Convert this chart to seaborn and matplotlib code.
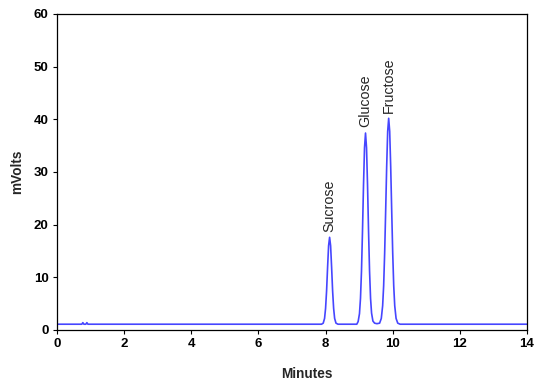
import matplotlib
matplotlib.use("Agg")
import matplotlib.pyplot as plt
import seaborn as sns
import pandas as pd

# Trace (minutes, mVolts)
time_min = [0.0, 0.74, 0.77, 0.80, 0.86, 0.89, 0.92,
            7.88, 7.93, 7.97, 8.00, 8.03, 8.06, 8.09, 8.12, 8.15, 8.18, 8.21, 8.24, 8.27, 8.31, 8.37,
            8.93, 8.97, 9.01, 9.04, 9.07, 9.10, 9.13, 9.16, 9.19, 9.22, 9.25, 9.28, 9.31, 9.34, 9.37, 9.41, 9.46, 9.53,
            9.61, 9.66, 9.70, 9.73, 9.76, 9.79, 9.82, 9.85, 9.88, 9.91, 9.94, 9.97, 10.00, 10.03, 10.06, 10.10, 10.15, 10.22,
            14.0]
signal_mv = [1.1, 1.1, 1.4, 1.1, 1.1, 1.4, 1.1,
             1.1, 1.3, 2.2, 4.1, 7.4, 11.9, 16.0, 17.6, 16.0, 11.9, 7.4, 4.1, 2.2, 1.3, 1.1,
             1.1, 1.6, 3.1, 6.0, 11.2, 18.8, 27.5, 34.6, 37.4, 34.6, 27.5, 18.8, 11.2, 6.0, 3.2, 1.7, 1.3, 1.2,
             1.3, 2.2, 4.6, 8.4, 14.6, 22.6, 31.0, 37.7, 40.2, 37.7, 31.0, 22.6, 14.6, 8.4, 4.6, 2.2, 1.3, 1.1,
             1.1]

peak_names = ["Sucrose", "Glucose", "Fructose"]
peak_times = [8.12, 9.19, 9.88]
peak_heights = [17.6, 37.4, 40.2]

df = pd.DataFrame({"Minutes": time_min, "mVolts": signal_mv})

sns.set_style("ticks")
plt.rcParams["font.family"] = ["Liberation Sans", "DejaVu Sans"]

fig = plt.figure(figsize=(5.53, 3.82), dpi=100)
ax = fig.add_axes([57 / 553, 52 / 382, 470 / 553, 316 / 382])
sns.lineplot(data=df, x="Minutes", y="mVolts", estimator=None, color="#4646ff", lw=1.2, ax=ax)

ax.set_xlim(0, 14)
ax.set_ylim(0, 60)
ax.set_xticks(range(0, 15, 2))
ax.set_yticks(range(0, 61, 10))
for s in ax.spines.values():
    s.set_visible(True)
    s.set_color("black")
    s.set_linewidth(0.9)
ax.tick_params(direction="out", length=3, width=0.8, labelsize=9.5, colors="black")
ax.tick_params(axis="x", pad=3)
ax.tick_params(axis="y", pad=3)
for lab in ax.get_xticklabels() + ax.get_yticklabels():
    lab.set_fontweight("bold")
ax.set_xlabel("Minutes", fontsize=9.8, fontweight="bold")
ax.set_ylabel("mVolts", fontsize=9.8, fontweight="bold")
ax.xaxis.set_label_coords((307 - 57) / 470, -(374 - 330) / 316)
ax.yaxis.set_label_coords(-(57 - 17) / 470, 0.5)
ax.xaxis.label.set_va("center")
ax.yaxis.label.set_va("center")

for name, t, h in zip(peak_names, peak_times, peak_heights):
    ax.annotate(name, xy=(t, h), xytext=(0, 4), textcoords="offset points",
                rotation=90, ha="center", va="bottom", fontsize=10.3)

fig.savefig("out.png", dpi=100)
